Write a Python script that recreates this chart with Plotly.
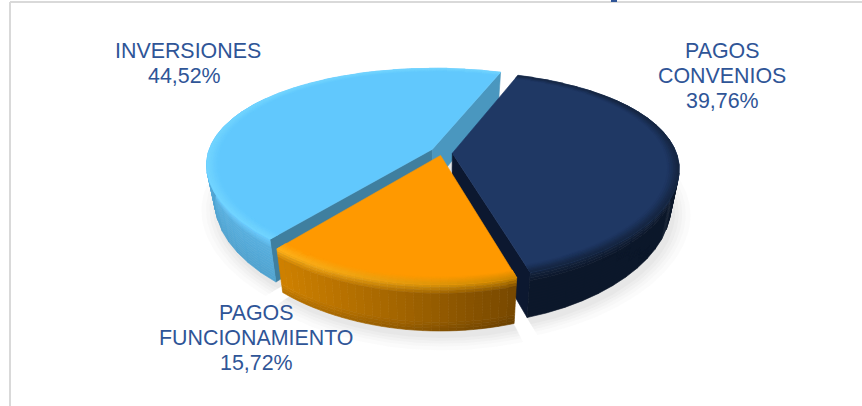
import math
from collections import OrderedDict
import plotly.graph_objects as go

categories = ["PAGOS CONVENIOS", "PAGOS FUNCIONAMIENTO", "INVERSIONES"]
values = [39.76, 15.72, 44.52]
label_lines = [["PAGOS", "CONVENIOS"], ["PAGOS", "FUNCIONAMIENTO"], ["INVERSIONES"]]
label_pos = [(722, 51), (256, 313), (187.5, 51)]
pct_dx = [0, 0, -3.5]
first_angle = 20.0
explode = 0.055
slice_shift = [(-1, 3), (2, 0), (2, 2)]

CX, CY, R, RV, PX, PY, H = 441, 150, 224, 99.3, 0.15, 0.2115, 36
TEXT = "#2f5597"


def proj(X, Y, z=0.0, shift=(0, 0)):
    sx = 1 / (1 - PX * Y)
    sy = 1 / (1 - PY * Y)
    return (CX + R * X * sx * (1 - 0.035 * z) + shift[0],
            CY + RV * Y * sy + H * z * sy + shift[1])


def mix(a, b, t):
    t = max(0, min(1, t))
    ca = [int(a[i:i + 2], 16) for i in (1, 3, 5)]
    cb = [int(b[i:i + 2], 16) for i in (1, 3, 5)]
    return "#%02x%02x%02x" % tuple(round(x + (y - x) * t) for x, y in zip(ca, cb))


fig = go.Figure()


def poly(pts, color, opacity=1.0, width=0.6):
    fig.add_trace(go.Scatter(
        x=[p[0] for p in pts] + [pts[0][0]], y=[p[1] for p in pts] + [pts[0][1]],
        mode="lines", fill="toself", fillcolor=color, opacity=opacity,
        line=dict(color=color, width=width), hoverinfo="skip", showlegend=False))


def flush(groups):
    for color, polys in groups.items():
        xs, ys = [], []
        for pts in polys:
            xs += [p[0] for p in pts] + [pts[0][0], None]
            ys += [p[1] for p in pts] + [pts[0][1], None]
        fig.add_trace(go.Scatter(x=xs, y=ys, mode="lines", fill="toself", fillcolor=color,
                                 line=dict(color=color, width=0.6), hoverinfo="skip", showlegend=False))


spans = []
a = first_angle
for v in values:
    sweep = 360 * v / sum(values)
    spans.append((a, a + sweep))
    a += sweep


def pt(ang, r, off, z=0.0, shift=(0, 0)):
    t = math.radians(ang)
    return proj(off[0] + r * math.sin(t), off[1] - r * math.cos(t), z, shift)


def offset(span):
    t = math.radians((span[0] + span[1]) / 2)
    return explode * math.sin(t), -explode * math.cos(t)


def wedge(span, off, r, z=0.0, n=70, shift=(0, 0)):
    pts = [pt(span[0], 0, off, z, shift)]
    pts += [pt(span[0] + (span[1] - span[0]) * i / n, r, off, z, shift) for i in range(n + 1)]
    return pts


styles = {
    0: dict(top="#1f3864",
            rim=lambda u, t: mix("#1f3864", "#14243f", t),
            wall=lambda u, l: mix("#14243f", "#0c172a", l / 0.2),
            cuts=[None, "#0c1830"]),
    1: dict(top="#ff9900",
            rim=lambda u, t: mix("#ff9900", mix("#ffb31c", "#c98500", u), t),
            wall=lambda u, l: mix(mix(mix("#ffb31c", "#c98500", u), mix("#cf8100", "#754700", u), min(1, l / .22)),
                                  "#000000", max(0, l - .8) * .6),
            cuts=[None, None]),
    2: dict(top="#61c8fd",
            rim=lambda u, t: mix("#61c8fd", "#72d5ff", t),
            wall=lambda u, l: mix("#6accff", mix("#5ab3e3", "#50a2cf", l), min(1, l / .22)),
            cuts=["#3f7f9f", "#4a97bf"]),
}

# soft shadow under the pie
for grow, op in [(1.07, .05), (1.05, .06), (1.035, .07), (1.02, .08), (1.005, .1)]:
    for span, shift in zip(spans, slice_shift):
        off = offset(span)
        shadow = [(x + 3, y + 6) for x, y in wedge(span, (off[0] * grow, off[1] * grow), grow, 1.0, shift=shift)]
        poly(shadow, "#b8b8b8", op, width=0)

for idx in [2, 0, 1]:
    span, st, shift = spans[idx], styles[idx], slice_shift[idx]
    off = offset(span)
    for ang, col in zip(span, st["cuts"]):
        if col:
            poly([pt(ang, 0, off, 0, shift), pt(ang, 1, off, 0, shift),
                  pt(ang, 1, off, 1, shift), pt(ang, 0, off, 1, shift)], col)
    NU, NL = 30, 16
    groups = OrderedDict()
    for i in range(NU):
        a0 = span[0] + (span[1] - span[0]) * i / NU
        a1 = span[0] + (span[1] - span[0]) * (i + 1) / NU
        if math.cos(math.radians(a0)) > 0.55 and math.cos(math.radians(a1)) > 0.55:
            continue
        u = (pt((a0 + a1) / 2, 1, off)[0] - 275) / (520 - 275)
        for j in range(NL):
            z0, z1 = j / NL, (j + 1) / NL
            groups.setdefault(st["wall"](u, (j + .5) / NL), []).append(
                [pt(a0, 1, off, z0, shift), pt(a1, 1, off, z0, shift),
                 pt(a1, 1, off, z1, shift), pt(a0, 1, off, z1, shift)])
    flush(groups)
    poly(wedge(span, off, 1, shift=shift), st["top"])
    groups = OrderedDict()
    NR = 6
    for i in range(NU):
        a0 = span[0] + (span[1] - span[0]) * i / NU
        a1 = span[0] + (span[1] - span[0]) * (i + 1) / NU
        u = (pt((a0 + a1) / 2, 1, off)[0] - 275) / (520 - 275)
        for j in range(NR):
            r0, r1 = .95 + .05 * j / NR, .95 + .05 * (j + 1) / NR
            groups.setdefault(st["rim"](u, (j + .5) / NR), []).append(
                [pt(a0, r0, off, 0, shift), pt(a1, r0, off, 0, shift),
                 pt(a1, r1, off, 0, shift), pt(a0, r1, off, 0, shift)])
    flush(groups)

annotations = []
for lines, v, (x, y), dx in zip(label_lines, values, label_pos, pct_dx):
    pct = f"{v:.2f}".replace(".", ",") + "%"
    for i, text in enumerate(lines + [pct]):
        annotations.append(dict(x=x + (dx if text == pct else 0), y=y + i * 25, xref="x", yref="y",
                                text=text, showarrow=False, xanchor="center", yanchor="middle",
                                font=dict(family="Liberation Sans, Arial, sans-serif", size=21.4, color=TEXT)))

shapes = [
    dict(type="line", x0=10, x1=10, y0=2, y1=406, line=dict(color="#d9d9d9", width=2), layer="below"),
    dict(type="line", x0=10, x1=862, y0=2, y1=2, line=dict(color="#d9d9d9", width=2), layer="below"),
    dict(type="rect", x0=611, x1=617, y0=0, y1=2, fillcolor=TEXT, line=dict(width=0)),
]

fig.update_layout(
    width=862, height=406, margin=dict(l=0, r=0, t=0, b=0),
    paper_bgcolor="white", plot_bgcolor="white", showlegend=False,
    xaxis=dict(range=[0, 862], visible=False, fixedrange=True),
    yaxis=dict(range=[406, 0], visible=False, fixedrange=True),
    annotations=annotations, shapes=shapes,
)
fig.write_html("out.html", config={"displayModeBar": False},
               post_script="document.body.style.margin='0';document.body.style.overflow='hidden';")
